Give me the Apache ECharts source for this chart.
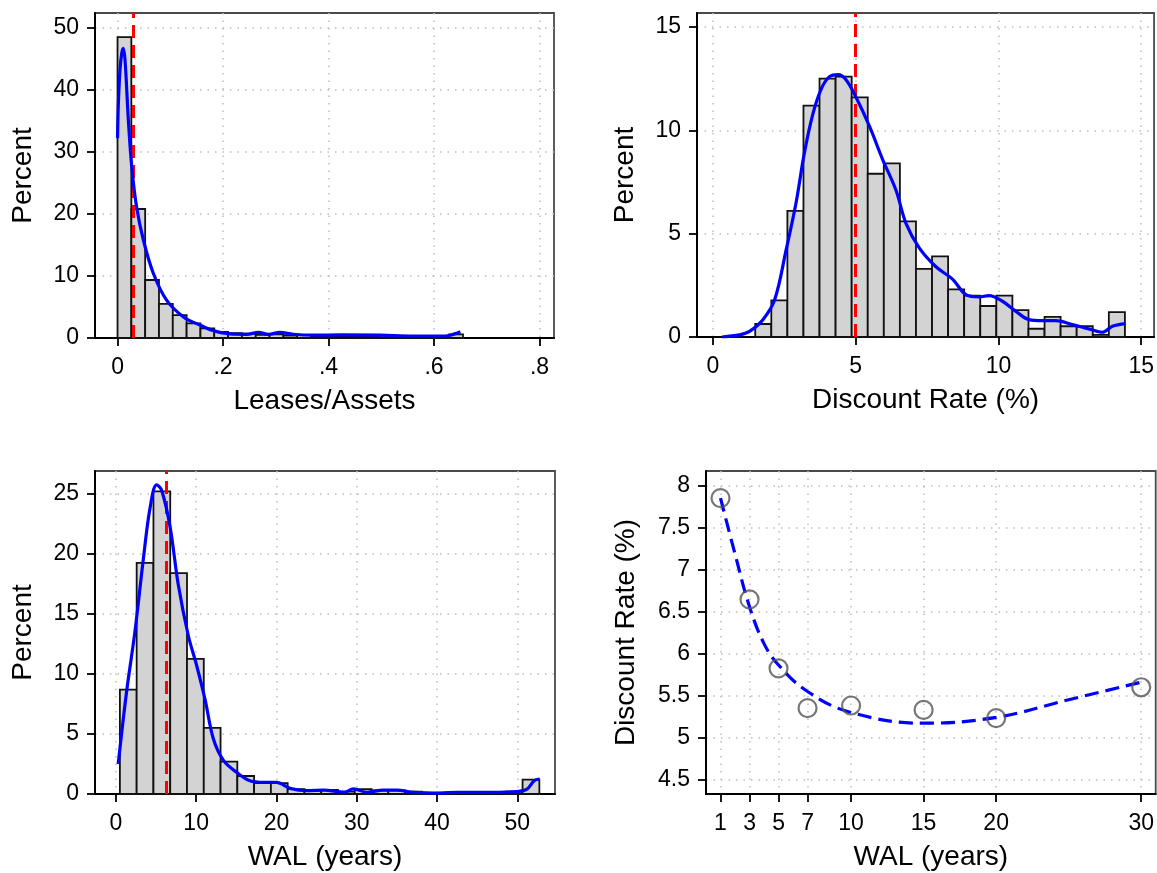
<!DOCTYPE html>
<html><head><meta charset="utf-8">
<script src="https://cdn.jsdelivr.net/npm/echarts@6/dist/echarts.min.js"></script>
<style>html,body{margin:0;padding:0;background:#fff}#c{width:1157px;height:873px}</style>
</head><body><div id="c"></div>
<script>
// ---- Panel 1: Leases/Assets ----
const leaseBinStart = 0;
const leaseBinWidth = 0.0262;
const leasePct = [48.5, 20.8, 9.35, 5.5, 3.7, 2.35, 1.55, 1.0, 0.8, 0.7, 0.5, 0.6, 0.4, 0.5, 0.3, 0.3, 0.2, 0.2, 0.2, 0.1, 0.1, 0.1, 0.1, 0.05, 0.6];
const leaseKdeX = [0, 0.0016, 0.0047, 0.008, 0.011, 0.0145, 0.0205, 0.027, 0.036, 0.049, 0.068, 0.093, 0.125, 0.156, 0.181, 0.213, 0.245, 0.267, 0.286, 0.308, 0.333, 0.371, 0.422, 0.498, 0.561, 0.612, 0.631, 0.65];
const leaseKdeY = [32.2, 37.8, 43.2, 45.9, 46.7, 44.5, 35.2, 27.6, 21.2, 15.8, 10.4, 6.1, 3.4, 2.1, 1.2, 0.65, 0.6, 0.9, 0.6, 0.9, 0.6, 0.45, 0.5, 0.45, 0.3, 0.3, 0.45, 1.0];
const leaseMedian = 0.0275;
const leaseXTicks = [0, 0.2, 0.4, 0.6, 0.8];
const leaseYTicks = [0, 10, 20, 30, 40, 50];

// ---- Panel 2: Discount Rate ----
const rateBinStart = 1.48;
const rateBinWidth = 0.563;
const ratePct = [0.63, 1.77, 6.1, 11.2, 12.5, 12.6, 11.6, 7.9, 8.4, 5.6, 3.3, 3.9, 2.3, 2.0, 1.5, 2.0, 1.3, 0.4, 0.97, 0.52, 0.52, 0.1, 1.2];
const rateKdeX = [0.31, 0.93, 1.28, 1.75, 2.16, 2.56, 2.91, 3.2, 3.5, 3.79, 4.08, 4.39, 4.66, 5.01, 5.48, 5.94, 6.41, 6.76, 7.23, 7.81, 8.39, 8.86, 9.32, 9.67, 10.14, 10.61, 11.07, 11.54, 12.0, 12.59, 13.17, 13.64, 13.99, 14.45];
const rateKdeY = [0, 0.1, 0.27, 0.84, 1.8, 4.2, 6.5, 8.9, 10.8, 12.0, 12.6, 12.7, 12.45, 11.6, 10.2, 8.6, 7.1, 5.5, 4.3, 3.4, 2.8, 2.05, 1.94, 2.0, 1.73, 1.24, 0.84, 0.79, 0.79, 0.6, 0.39, 0.23, 0.52, 0.65];
const rateMedian = 5.0;
const rateXTicks = [0, 5, 10, 15];
const rateYTicks = [0, 5, 10, 15];

// ---- Panel 3: WAL ----
const walBinStart = 0.5;
const walBinWidth = 2.09;
const walPct = [8.7, 19.25, 25.2, 18.4, 11.25, 5.5, 2.7, 1.5, 0.9, 0.9, 0.4, 0.3, 0.35, 0.2, 0.4, 0.3, 0.3, 0.2, 0.1, 0.1, 0.1, 0.1, 0.1, 0.2, 1.2];
const walKdeX = [0.29, 1.33, 2.37, 3.41, 4.24, 5.07, 5.7, 6.74, 7.78, 9.02, 10.06, 11.1, 12.14, 13.4, 15.05, 16.7, 18.4, 20.0, 21.7, 23.8, 25.9, 28.4, 29.6, 31.3, 33.3, 35.0, 37.1, 40.4, 42.5, 46.7, 50.0, 51.2, 52.1, 52.8];
const walKdeY = [2.5, 8.5, 13.5, 19.5, 23.75, 25.75, 25.3, 22.3, 17.4, 13.2, 10.7, 7.9, 4.6, 2.8, 1.8, 1.1, 0.97, 0.97, 0.47, 0.28, 0.33, 0.14, 0.42, 0.14, 0.33, 0.33, 0.14, 0.08, 0.14, 0.14, 0.2, 0.4, 1.1, 1.25];
const walMedian = 6.3;
const walXTicks = [0, 10, 20, 30, 40, 50];
const walYTicks = [0, 5, 10, 15, 20, 25];

// ---- Panel 4: Discount rate by WAL ----
const termYears = [1, 3, 5, 7, 10, 15, 20, 30];
const termRate = [7.857, 6.647, 5.825, 5.349, 5.381, 5.329, 5.230, 5.599];
const fitX = [1, 2, 3, 4, 5, 7, 10, 15, 20, 25, 30];
const fitY = [7.857, 7.19, 6.56, 6.12, 5.865, 5.548, 5.298, 5.17, 5.24, 5.45, 5.66];
const termXTicks = [1, 3, 5, 7, 10, 15, 20, 30];
const termYTicks = [4.5, 5, 5.5, 6, 6.5, 7, 7.5, 8];

const FONT = '"Liberation Sans", Arial, sans-serif';
const TICK_FS = 23, TITLE_FS = 28;
const grids = [
  {left: 95, top: 13, width: 459, height: 325},
  {left: 697, top: 13, width: 458, height: 324},
  {left: 95, top: 471, width: 460, height: 323},
  {left: 706, top: 471, width: 450, height: 323}
].map(g => Object.assign(g, {show: true, borderColor: '#4a4a4a', borderWidth: 1.8, backgroundColor: 'transparent', containLabel: false}));

const gridLine = {show: true, lineStyle: {color: '#bdbdbd', width: 1.5, type: [1.5, 6]}};

function xAxis(gi, min, max, ticks, name, fmt) {
  return {
    type: 'value', gridIndex: gi, min, max, name, nameLocation: 'middle', nameGap: 49,
    nameTextStyle: {fontSize: TITLE_FS, fontFamily: FONT, color: '#000'},
    axisLine: {show: true, onZero: false, lineStyle: {color: '#000', width: 2}},
    axisTick: {show: true, length: 8, lineStyle: {color: '#000', width: 1.8}, customValues: ticks},
    axisLabel: {customValues: ticks, fontSize: TICK_FS, fontFamily: FONT, color: '#000', margin: 18, formatter: fmt || (v => String(v))},
    splitLine: gridLine
  };
}
function yAxis(gi, min, max, ticks, name, gap) {
  return {
    type: 'value', gridIndex: gi, min, max, name, nameLocation: 'middle', nameGap: gap, nameRotate: 90,
    nameTextStyle: {fontSize: TITLE_FS, fontFamily: FONT, color: '#000'},
    axisLine: {show: true, onZero: false, lineStyle: {color: '#000', width: 2}},
    axisTick: {show: true, length: 8, lineStyle: {color: '#000', width: 1.8}, customValues: ticks},
    axisLabel: {customValues: ticks, fontSize: TICK_FS, fontFamily: FONT, color: '#000', margin: 16, formatter: v => String(v)},
    splitLine: gridLine
  };
}

function histSeries(gi, start, width, pct) {
  return {
    type: 'custom', xAxisIndex: gi, yAxisIndex: gi, z: 2,
    data: pct.map((h, i) => [start + i * width, start + (i + 1) * width, h]),
    encode: {x: [0, 1], y: 2},
    renderItem: function (params, api) {
      const p0 = api.coord([api.value(0), api.value(2)]);
      const p1 = api.coord([api.value(1), 0]);
      return {type: 'rect', shape: {x: p0[0], y: p0[1], width: p1[0] - p0[0], height: p1[1] - p0[1]},
        style: {fill: '#d3d3d3', stroke: '#111', lineWidth: 1.8}};
    }
  };
}
function kdeSeries(gi, xs, ys) {
  return {type: 'line', xAxisIndex: gi, yAxisIndex: gi, z: 5, smooth: 0.35, symbol: 'none',
    lineStyle: {color: '#0000ff', width: 3.2}, data: xs.map((x, i) => [x, ys[i]])};
}
function medianSeries(gi, m) {
  return {type: 'line', xAxisIndex: gi, yAxisIndex: gi, z: 3, data: [], symbol: 'none',
    markLine: {silent: true, symbol: ['none', 'none'], label: {show: false},
      lineStyle: {color: '#ff0000', width: 3, type: [13, 7]}, data: [{xAxis: m}]}};
}

const fmtLease = v => (v === 0 ? '0' : String(v).replace(/^0/, ''));

const option = {
  animation: false,
  backgroundColor: '#fff',
  grid: grids,
  xAxis: [
    xAxis(0, -0.0427, 0.8275, leaseXTicks, 'Leases/Assets', fmtLease),
    xAxis(1, -0.56, 15.45, rateXTicks, 'Discount Rate (%)'),
    xAxis(2, -2.6, 54.7, walXTicks, 'WAL (years)'),
    xAxis(3, 0, 31, termXTicks, 'WAL (years)')
  ],
  yAxis: [
    yAxis(0, 0, 52.4, leaseYTicks, 'Percent', 58),
    yAxis(1, 0, 15.68, rateYTicks, 'Percent', 58),
    yAxis(2, 0, 26.9, walYTicks, 'Percent', 58),
    yAxis(3, 4.325, 8.18, termYTicks, 'Discount Rate (%)', 66)
  ],
  series: [
    histSeries(0, leaseBinStart, leaseBinWidth, leasePct),
    medianSeries(0, leaseMedian),
    kdeSeries(0, leaseKdeX, leaseKdeY),
    histSeries(1, rateBinStart, rateBinWidth, ratePct),
    medianSeries(1, rateMedian),
    kdeSeries(1, rateKdeX, rateKdeY),
    histSeries(2, walBinStart, walBinWidth, walPct),
    medianSeries(2, walMedian),
    kdeSeries(2, walKdeX, walKdeY),
    {type: 'line', xAxisIndex: 3, yAxisIndex: 3, z: 4, smooth: 0.4, symbol: 'none',
      lineStyle: {color: '#0000ff', width: 3.2, type: [14, 7]}, data: fitX.map((x, i) => [x, fitY[i]])},
    {type: 'scatter', xAxisIndex: 3, yAxisIndex: 3, z: 5, symbol: 'circle', symbolSize: 18,
      itemStyle: {color: 'rgba(0,0,0,0)', borderColor: '#555', borderWidth: 2.2},
      data: termYears.map((x, i) => [x, termRate[i]])}
  ]
};
const chart = echarts.init(document.getElementById('c'), null, {renderer: 'canvas'});
chart.setOption(option);
</script></body></html>
